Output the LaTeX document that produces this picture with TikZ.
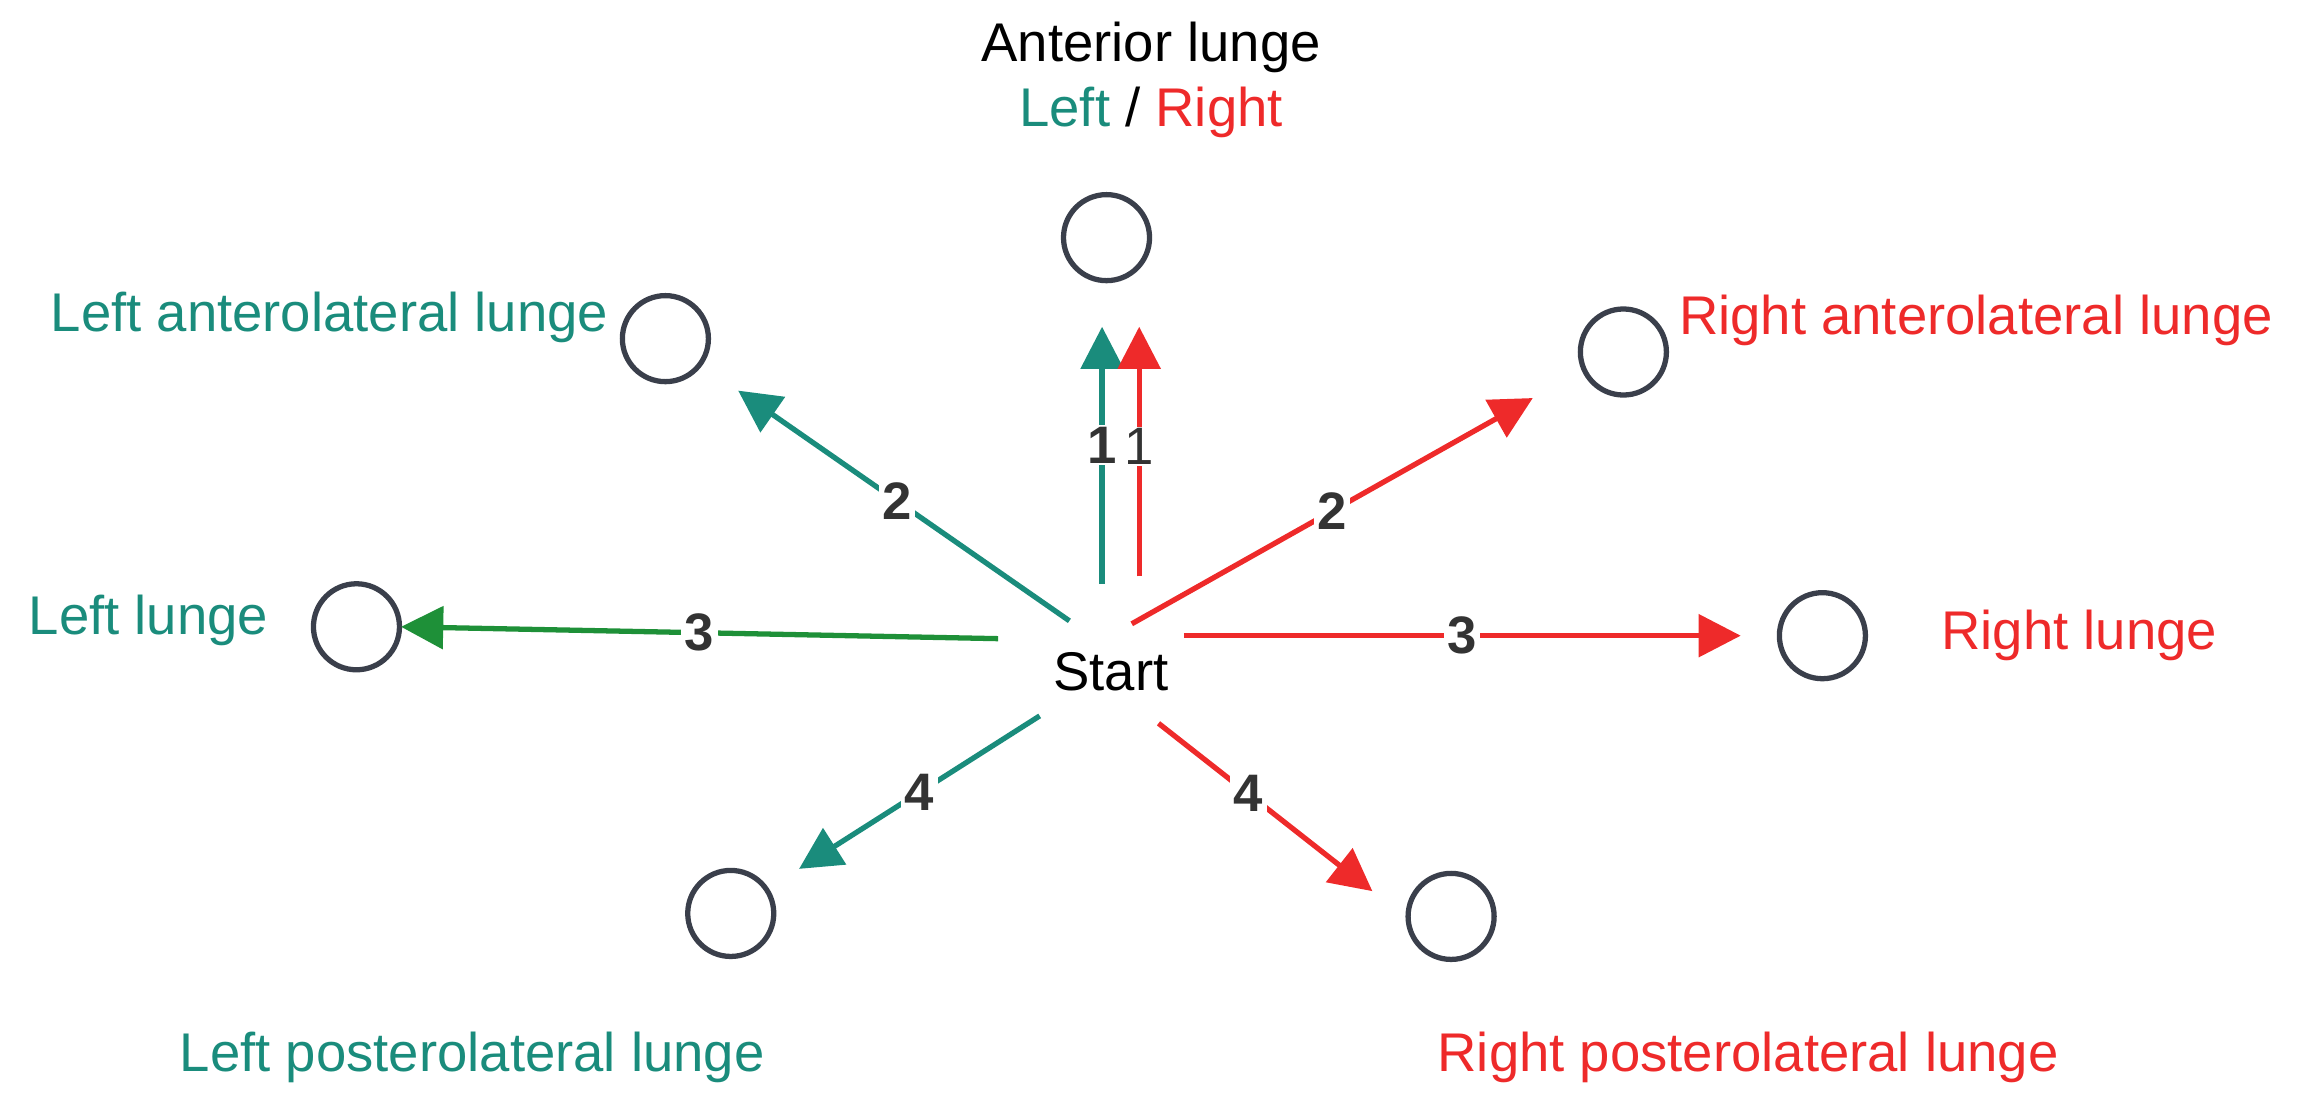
\documentclass[tikz,border=0pt]{standalone}
\usepackage{fontspec}
\setmainfont{Liberation Sans}
\usetikzlibrary{arrows.meta}
\definecolor{tl}{HTML}{1A8C7C}
\definecolor{rd}{HTML}{EE2A2A}
\definecolor{gr}{HTML}{1E9038}
\definecolor{cg}{HTML}{3A3F4B}
\begin{document}
\begin{tikzpicture}[x=0.01485cm,y=-0.01485cm,
  circ/.style={circle,draw=cg,line width=1.5pt,minimum size=0.86cm,inner sep=0},
  lab/.style={font=\fontsize{15.5}{18}\selectfont,inner sep=0},
  arr/.style={line width=1.5pt,-{Triangle[length=12pt,width=12pt]}},
  num/.style={font=\bfseries\fontsize{15}{18}\selectfont,fill=white,inner sep=1pt,text=black!80}]
\useasboundingbox (0,0) rectangle (1560,747);
\node[circ] (a) at (745,160) {};
\node[circ] (la) at (448,228) {};
\node[circ] (ra) at (1093,237) {};
\node[circ] (l) at (240,422) {};
\node[circ] (r) at (1227,428) {};
\node[circ] (lp) at (492,615) {};
\node[circ] (rp) at (977,617) {};
\node[lab] (st) at (748,452) {Start};
\node[lab] (t1) at (775,32) {Anterior lunge};
\node[lab] (t2) at (775,76) {\textcolor{tl}{Left} / \textcolor{rd}{Right}};
\node[lab,text=tl,anchor=east] (t3) at (410,214) {Left anterolateral lunge};
\node[lab,text=rd,anchor=west] (t4) at (1130,216) {Right anterolateral lunge};
\node[lab,text=tl] (t5) at (100,418) {Left lunge};
\node[lab,text=rd] (t6) at (1400,428) {Right lunge};
\node[lab,text=tl] (t7) at (318,712) {Left posterolateral lunge};
\node[lab,text=rd] (t8) at (1177,712) {Right posterolateral lunge};
\coordinate (s1) at (742,393); \coordinate (e1) at (742,220);
\coordinate (s2) at (767,388); \coordinate (e2) at (767,220);
\coordinate (s3) at (720,418); \coordinate (e3) at (497,263);
\coordinate (s4) at (672,430); \coordinate (e4) at (270,422);
\coordinate (s5) at (700,482); \coordinate (e5) at (538,585);
\coordinate (s6) at (762,420); \coordinate (e6) at (1032,268);
\coordinate (s7) at (797,428); \coordinate (e7) at (1172,428);
\coordinate (s8) at (780,487); \coordinate (e8) at (924,600);
\draw[arr,tl] (s1) -- (e1) node[num,pos=0.54,inner sep=0.5pt] {1};
\draw[arr,rd] (s2) -- (e2) node[num,pos=0.52,font=\fontsize{15}{18}\selectfont,inner sep=0.5pt] {1};
\draw[arr,tl] (s3) -- (e3) node[num,pos=0.52] {2};
\draw[arr,gr] (s4) -- (e4) node[num,pos=0.5] {3};
\draw[arr,tl] (s5) -- (e5) node[num,pos=0.5] {4};
\draw[arr,rd] (s6) -- (e6) node[num,pos=0.5] {2};
\draw[arr,rd] (s7) -- (e7) node[num,pos=0.5] {3};
\draw[arr,rd] (s8) -- (e8) node[num,pos=0.42] {4};
\end{tikzpicture}
\end{document}
